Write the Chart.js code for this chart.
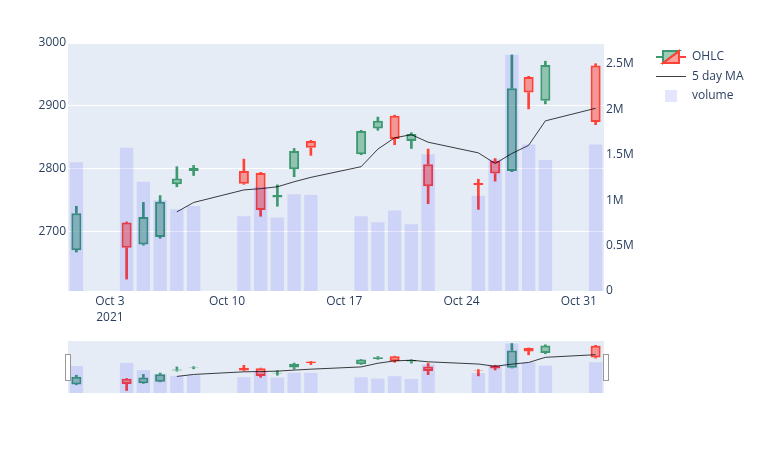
<!DOCTYPE html>
<html>
<head>
<meta charset="utf-8">
<script src="https://cdn.jsdelivr.net/npm/chart.js@4.4.0/dist/chart.umd.min.js"></script>
<style>
html,body{margin:0;padding:0;background:#fff;}
#wrap{position:relative;width:768px;height:449px;overflow:hidden;}
#main{position:absolute;left:0;top:0;}
#slider{position:absolute;left:0;top:335px;}
</style>
</head>
<body>
<div id="wrap">
<canvas id="main" width="768" height="330"></canvas>
<canvas id="slider" width="768" height="65"></canvas>
</div>
<script>
// ---- data ----
const dates = ['2021-10-01','2021-10-04','2021-10-05','2021-10-06','2021-10-07','2021-10-08',
  '2021-10-11','2021-10-12','2021-10-13','2021-10-14','2021-10-15',
  '2021-10-18','2021-10-19','2021-10-20','2021-10-21','2021-10-22',
  '2021-10-25','2021-10-26','2021-10-27','2021-10-28','2021-10-29','2021-11-01'];
const openP  = [2670, 2714, 2679, 2691, 2775, 2796, 2796, 2793, 2754, 2799, 2844, 2823, 2864, 2884, 2844, 2807, 2777, 2812, 2796, 2946, 2908, 2964];
const highP  = [2740, 2715, 2746, 2757, 2803, 2805, 2815, 2794, 2774, 2832, 2845, 2861, 2882, 2885, 2857, 2831, 2783, 2816, 2981, 2947, 2971, 2967];
const lowP   = [2667, 2624, 2678, 2689, 2771, 2789, 2775, 2724, 2740, 2787, 2821, 2822, 2861, 2838, 2832, 2744, 2735, 2780, 2795, 2895, 2903, 2870];
const closeP = [2729, 2674, 2723, 2747, 2784, 2801, 2776, 2734, 2758, 2828, 2833, 2860, 2876, 2847, 2855, 2772, 2774, 2792, 2928, 2921, 2965, 2874];
const ma5    = [null, null, null, null, 2731, 2746, 2766, 2768, 2771, 2779, 2786, 2803, 2831, 2849, 2854, 2842, 2825, 2808, 2824, 2837, 2876, 2896];
const volume = [1416000, 1577000, 1202000, 1000000, 900000, 937000, 824000, 1147000, 809000, 1066000, 1058000,
  824000, 757000, 886000, 735000, 1504000, 1048000, 1450000, 2600000, 1614000, 1441000, 1614000];

const priceTicks = [2700, 2800, 2900, 3000];
const volumeTicks = [0, 500000, 1000000, 1500000, 2000000, 2500000];
const volumeTickLabels = ['0', '0.5M', '1M', '1.5M', '2M', '2.5M'];
const xTickDates = ['2021-10-03','2021-10-10','2021-10-17','2021-10-24','2021-10-31'];
const xTickLabels = [['Oct 3','2021'], 'Oct 10', 'Oct 17', 'Oct 24', 'Oct 31'];
const seriesNames = ['OHLC', '5 day MA', 'volume'];

// ---- helpers ----
const DAY = 86400000;
const t0 = Date.parse(dates[0] + 'T00:00:00Z');
const dayNum = d => (Date.parse(d + 'T00:00:00Z') - t0) / DAY;
const X = dates.map(dayNum);
const xMin = X[0] - 0.5, xMax = X[X.length - 1] + 0.5;
const priceMin = 2605, priceMax = 3000, volMax = 2730000;

const INC = '#3D9970', DEC = '#FF4136';
const INC_F = 'rgba(61,153,112,0.5)', DEC_F = 'rgba(255,65,54,0.5)';
const VOL = 'rgba(0,0,255,0.1)';
const MA_COL = 'rgba(0,0,0,0.75)';
const isInc = i => closeP[i] >= openP[i];
const lineCols = X.map((_, i) => isInc(i) ? INC : DEC);
const fillCols = X.map((_, i) => isInc(i) ? INC_F : DEC_F);
const FONT = '"Open Sans", verdana, arial, sans-serif';
const TXT = '#2a3f5f';
const BG = '#E5ECF6';

function buildDatasets() {
  return [
    { type: 'bar', label: 'wickHigh', yAxisID: 'y', order: 5, grouped: false,
      data: X.map((x, i) => ({ x: x, y: [Math.max(openP[i], closeP[i]), highP[i]] })),
      barThickness: 2, backgroundColor: lineCols, borderWidth: 0 },
    { type: 'bar', label: 'wickLow', yAxisID: 'y', order: 5, grouped: false,
      data: X.map((x, i) => ({ x: x, y: [lowP[i], Math.min(openP[i], closeP[i])] })),
      barThickness: 2, backgroundColor: lineCols, borderWidth: 0 },
    { type: 'bar', label: seriesNames[0], yAxisID: 'y', order: 3, grouped: false,
      data: X.map((x, i) => ({ x: x, y: [openP[i], closeP[i]] })),
      barPercentage: 0.6, categoryPercentage: 1,
      backgroundColor: fillCols, borderColor: lineCols, borderWidth: 2, borderSkipped: false },
    { type: 'line', label: seriesNames[1], yAxisID: 'y', order: 2,
      data: X.map((x, i) => ({ x: x, y: ma5[i] })),
      borderColor: MA_COL, borderWidth: 1, pointRadius: 0, tension: 0, fill: false },
    { type: 'bar', label: seriesNames[2], yAxisID: 'y2', order: 1, grouped: false,
      data: X.map((x, i) => ({ x: x, y: volume[i] })),
      barPercentage: 0.8, categoryPercentage: 1, backgroundColor: VOL, borderWidth: 0 }
  ];
}

const bgPlugin = {
  id: 'plotbg',
  beforeDraw(chart) {
    const a = chart.chartArea, c = chart.ctx;
    c.save(); c.fillStyle = BG; c.fillRect(a.left, a.top, a.right - a.left, a.bottom - a.top); c.restore();
  }
};

const legendPlugin = {
  id: 'plotlyLegend',
  afterDraw(chart) {
    const c = chart.ctx;
    const cx = 671, tx = 692;
    const rows = [57, 76.5, 96];
    c.save();
    // OHLC icon
    let y = rows[0];
    c.lineWidth = 2;
    c.strokeStyle = INC; c.fillStyle = INC_F;
    c.beginPath(); c.moveTo(cx - 15, y); c.lineTo(cx - 8, y); c.stroke();
    c.beginPath(); c.moveTo(cx - 8, y + 6); c.lineTo(cx - 8, y - 6); c.lineTo(cx + 8, y - 6); c.closePath(); c.fill(); c.stroke();
    c.strokeStyle = DEC; c.fillStyle = DEC_F;
    c.beginPath(); c.moveTo(cx + 15, y); c.lineTo(cx + 8, y); c.stroke();
    c.beginPath(); c.moveTo(cx + 8, y - 6); c.lineTo(cx + 8, y + 6); c.lineTo(cx - 8, y + 6); c.closePath(); c.fill(); c.stroke();
    // MA line
    y = rows[1];
    c.lineWidth = 1; c.strokeStyle = MA_COL;
    c.beginPath(); c.moveTo(cx - 15, y); c.lineTo(cx + 15, y); c.stroke();
    // volume square
    y = rows[2];
    c.fillStyle = VOL; c.fillRect(cx - 6, y - 6, 12, 12);
    // texts
    c.fillStyle = TXT; c.font = '12px ' + FONT; c.textBaseline = 'middle'; c.textAlign = 'left';
    seriesNames.forEach((n, k) => c.fillText(n, tx, rows[k]));
    c.restore();
  }
};

const sliderPlugin = {
  id: 'sliderHandles',
  afterDraw(chart) {
    const a = chart.chartArea, c = chart.ctx;
    const mid = (a.top + a.bottom) / 2, h = 26;
    c.save();
    c.fillStyle = '#fff'; c.strokeStyle = '#999'; c.lineWidth = 1;
    [a.left - 3, a.right - 1].forEach(xl => {
      c.fillRect(Math.round(xl) + 0.5, Math.round(mid - h / 2) + 0.5, 5, h);
      c.strokeRect(Math.round(xl) + 0.5, Math.round(mid - h / 2) + 0.5, 5, h);
    });
    c.restore();
  }
};

const tickFont = { family: FONT, size: 12 };

new Chart(document.getElementById('main'), {
  type: 'bar',
  data: { datasets: buildDatasets() },
  plugins: [bgPlugin, legendPlugin],
  options: {
    responsive: false, animation: false, devicePixelRatio: 1,
    layout: { padding: { top: 43, right: 124, bottom: 0, left: 0 } },
    plugins: { legend: { display: false }, tooltip: { enabled: false } },
    scales: {
      x: {
        type: 'linear', min: xMin, max: xMax, offset: false,
        grid: { display: false, drawTicks: false }, border: { display: false },
        afterBuildTicks: s => { s.ticks = xTickDates.map(d => ({ value: dayNum(d) })); },
        afterFit: s => { s.height = 39; },
        ticks: {
          autoSkip: false, maxRotation: 0, minRotation: 0, padding: 2, color: TXT,
          font: { family: FONT, size: 12, lineHeight: 1.35 },
          callback: v => { const k = xTickDates.findIndex(d => dayNum(d) === v); return k >= 0 ? xTickLabels[k] : ''; }
        }
      },
      y: {
        type: 'linear', position: 'left', min: priceMin, max: priceMax,
        afterBuildTicks: s => { s.ticks = priceTicks.map(v => ({ value: v })); },
        afterFit: s => { s.width = 68; },
        grid: { color: '#fff', lineWidth: 1, drawTicks: false }, border: { display: false },
        ticks: { padding: 2, color: TXT, font: tickFont, callback: v => String(v) }
      },
      y2: {
        type: 'linear', position: 'right', min: 0, max: volMax,
        afterBuildTicks: s => { s.ticks = volumeTicks.map(v => ({ value: v })); },
        afterFit: s => { s.width = 40; },
        grid: { display: false, drawTicks: false }, border: { display: false },
        ticks: { padding: 2, color: TXT, font: tickFont, callback: v => volumeTickLabels[volumeTicks.indexOf(v)] }
      }
    }
  }
});

new Chart(document.getElementById('slider'), {
  type: 'bar',
  data: { datasets: buildDatasets() },
  plugins: [bgPlugin, sliderPlugin],
  options: {
    responsive: false, animation: false, devicePixelRatio: 1,
    layout: { padding: { top: 6, right: 164, bottom: 7, left: 68 } },
    plugins: { legend: { display: false }, tooltip: { enabled: false } },
    scales: {
      x: { type: 'linear', min: xMin, max: xMax, offset: false, display: false },
      y: { type: 'linear', min: priceMin, max: priceMax, display: false },
      y2: { type: 'linear', min: 0, max: volMax, display: false }
    }
  }
});
</script>
</body>
</html>
